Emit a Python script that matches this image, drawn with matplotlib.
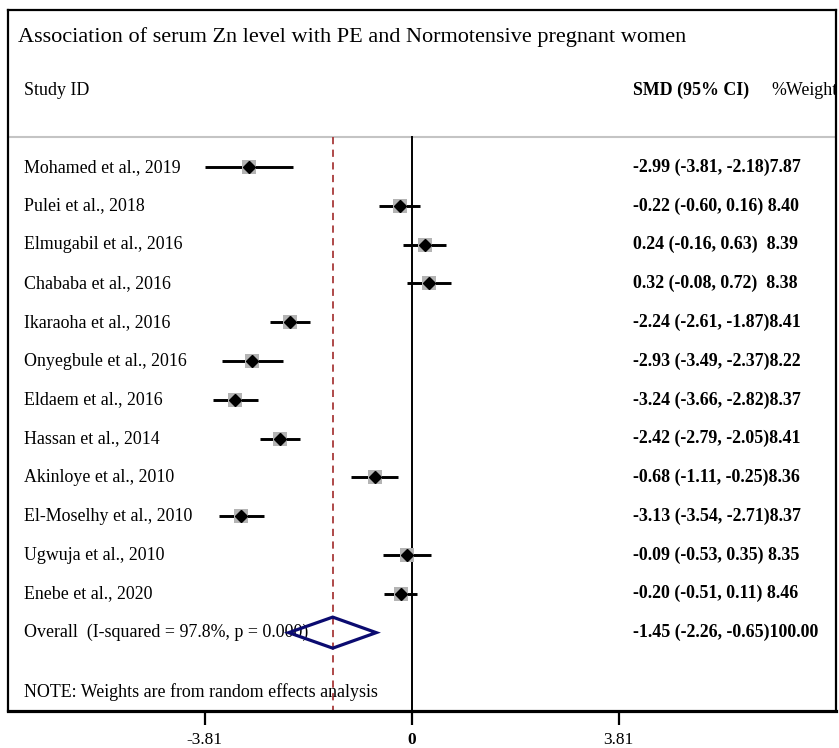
import matplotlib
matplotlib.use('Agg')
import matplotlib.pyplot as plt
from matplotlib.patches import Polygon

plt.rcParams['font.family'] = ['Liberation Serif', 'DejaVu Serif']

# study data
studies = ['Mohamed et al., 2019', 'Pulei et al., 2018', 'Elmugabil et al., 2016',
           'Chababa et al., 2016', 'Ikaraoha et al., 2016', 'Onyegbule et al., 2016',
           'Eldaem et al., 2016', 'Hassan et al., 2014', 'Akinloye et al., 2010',
           'El-Moselhy et al., 2010', 'Ugwuja et al., 2010', 'Enebe et al., 2020']
smd = [-2.99, -0.22, 0.24, 0.32, -2.24, -2.93, -3.24, -2.42, -0.68, -3.13, -0.09, -0.20]
lower = [-3.81, -0.60, -0.16, -0.08, -2.61, -3.49, -3.66, -2.79, -1.11, -3.54, -0.53, -0.51]
upper = [-2.18, 0.16, 0.63, 0.72, -1.87, -2.37, -2.82, -2.05, -0.25, -2.71, 0.35, 0.11]
weights = [7.87, 8.40, 8.39, 8.38, 8.41, 8.22, 8.37, 8.41, 8.36, 8.37, 8.35, 8.46]

overall = -1.45
overall_ci = (-2.26, -0.65)
overall_weight = 100.00
overall_label = 'Overall  (I-squared = 97.8%, p = 0.000)'

ticks = [-3.81, 0, 3.81]
tick_labels = ['-3.81', '0', '3.81']


def ci_text(est, lo, hi, w):
    s = f'{est:.2f} ({lo:.2f}, {hi:.2f})'
    return s + ' ' * max(0, 20 - len(s)) + f'{w:.2f}'


fig = plt.figure(figsize=(8.39, 7.48), dpi=100)
ax = fig.add_axes([8 / 839, 37 / 748, 828 / 839, 701 / 748])

x_left, x_right = -7.427, 7.813
y_top, y_bottom = -4.05, 14.02
ax.set_xlim(x_left, x_right)
ax.set_ylim(y_bottom, y_top)

x_lab = -7.13
x_ci = 4.08
header_y = -0.77
fs = 12.9

# header
ax.text(-7.24, -3.35, 'Association of serum Zn level with PE and Normotensive pregnant women',
        fontsize=16.05, va='center', ha='left')
ax.text(x_lab, -1.98, 'Study ID', fontsize=fs, va='center', ha='left')
ax.text(x_ci, -1.98, 'SMD (95% CI)', fontsize=fs, fontweight='bold', va='center', ha='left')
ax.text(6.62, -1.98, '%Weight', fontsize=fs, va='center', ha='left', clip_on=True)
ax.axhline(header_y, color='#c4c4c4', lw=1.5)

# reference lines
ax.plot([0, 0], [header_y, y_bottom], color='black', lw=1.4, zorder=2)
ax.plot([overall, overall], [header_y, y_bottom], color='#a83a3a', lw=1.3,
        ls=(0, (4, 3)), zorder=2)

# studies
for i, name in enumerate(studies):
    ax.text(x_lab, i, name, fontsize=fs, va='center', ha='left')
    ax.plot([lower[i], upper[i]], [i, i], color='black', lw=2.1, zorder=3, solid_capstyle='butt')
    ax.plot(smd[i], i, marker='s', color='#b4b4b4', markersize=10.5 * (weights[i] / 8.4) ** 0.5,
            markeredgewidth=0, zorder=3)
    ax.plot(smd[i], i, marker='D', color='black', markersize=6, zorder=4)
    ax.text(x_ci, i, ci_text(smd[i], lower[i], upper[i], weights[i]), fontsize=fs,
            fontweight='bold', va='center', ha='left')

# overall
oy = len(studies)
ax.text(x_lab, oy, overall_label, fontsize=fs, va='center', ha='left')
diamond = Polygon([(overall_ci[0], oy), (overall, oy - 0.4), (overall_ci[1], oy),
                   (overall, oy + 0.4)], closed=True, fill=False,
                  edgecolor='#0b0b70', lw=2.3, zorder=4)
ax.add_patch(diamond)
ax.text(x_ci, oy, ci_text(overall, overall_ci[0], overall_ci[1], overall_weight),
        fontsize=fs, fontweight='bold', va='center', ha='left')

ax.text(x_lab, 13.53, 'NOTE: Weights are from random effects analysis', fontsize=fs,
        va='center', ha='left')

# frame and axis
for side in ['left', 'top', 'right']:
    ax.spines[side].set_linewidth(1.6)
ax.spines['bottom'].set_linewidth(2.3)
ax.set_yticks([])
ax.set_xticks(ticks)
ax.set_xticklabels(tick_labels, fontsize=12.5)
ax.get_xticklabels()[1].set_fontweight('bold')
ax.tick_params(axis='x', length=10, width=1.6, pad=5)

plt.savefig('out.png', dpi=100)
